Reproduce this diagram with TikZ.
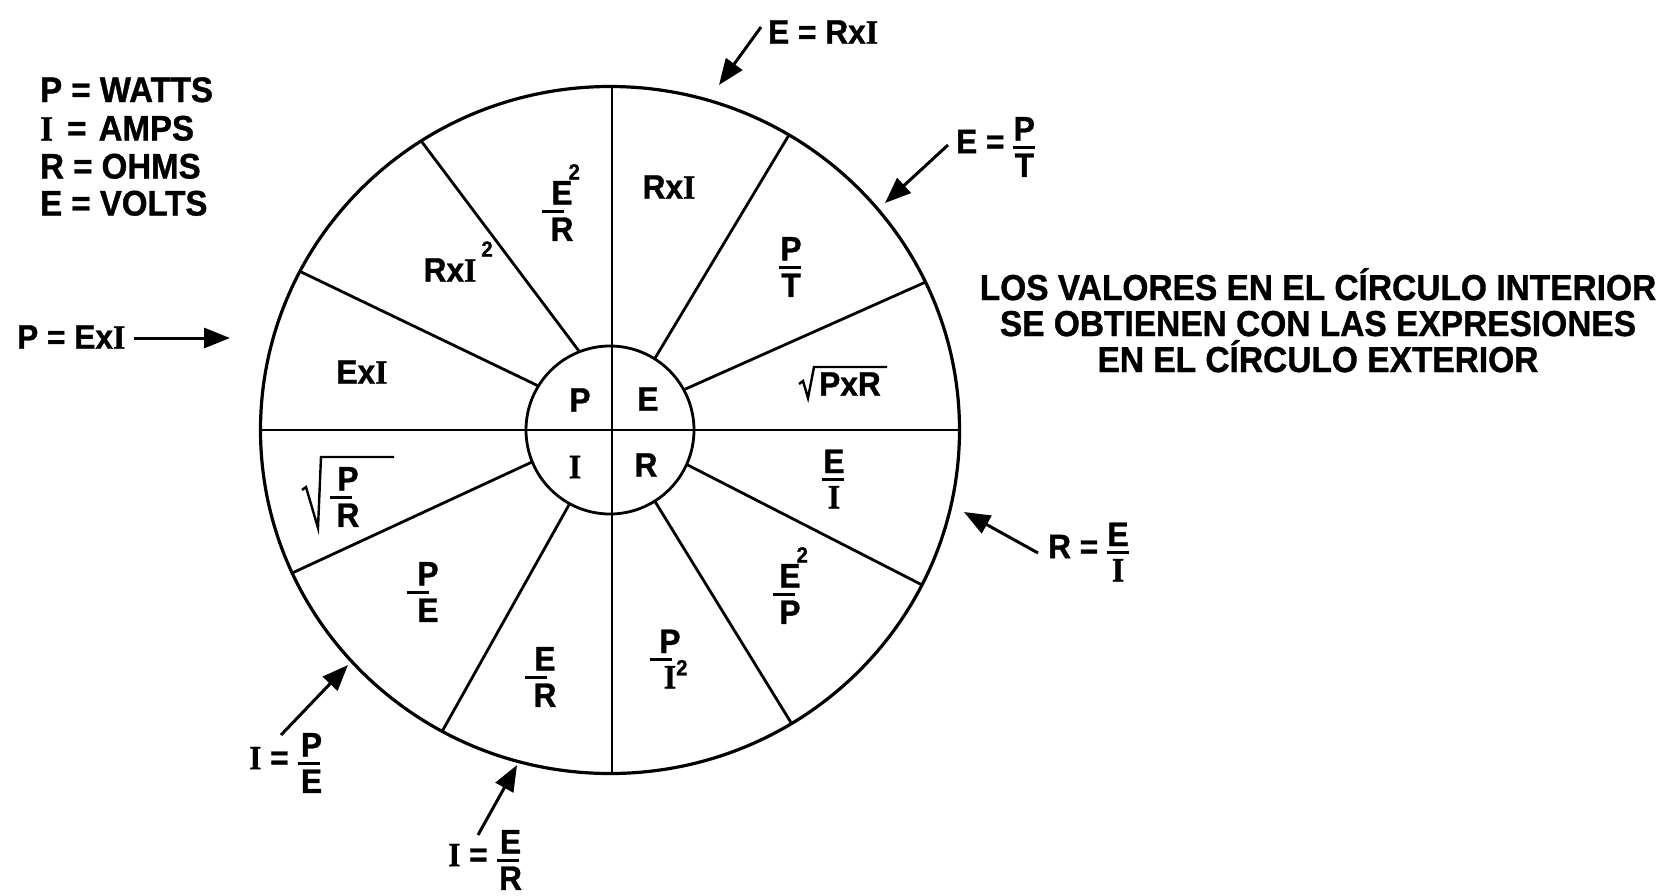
\documentclass[tikz,border=0pt]{standalone}
\usepackage{fontspec}
\setmainfont{Liberation Sans}[FakeStretch=0.93, BoldFeatures={FakeBold=1}]
\newfontfamily\serI{Liberation Serif}[FakeStretch=0.93, BoldFeatures={FakeBold=1}]
\usetikzlibrary{arrows.meta}
\newcommand{\sI}{{\serI I}}
\newcommand{\fr}[3][0pt]{$\vcenter{\offinterlineskip\halign{\hfil##\hfil\cr\hbox{#2}\cr\noalign{\kern5pt}\hbox{\vrule width 22pt height 3pt depth 0pt\kern#1}\cr\noalign{\kern5pt}\hbox{#3}\cr}}$}
\newcommand{\tsup}[3]{#1\rlap{\kern#2\smash{\raisebox{#3}{\fontsize{22}{22}\selectfont 2}}}}
\tikzset{
  txt/.style={inner sep=0pt, font=\fontsize{34}{36}\selectfont\bfseries},
  leg/.style={inner sep=0pt, font=\fontsize{35.5}{36}\selectfont\bfseries},
  big/.style={inner sep=0pt, font=\fontsize{36}{36}\selectfont\bfseries},
  ln/.style={line width=2.8pt},
  arr/.style={line width=3pt, -{Triangle[length=26pt,width=20pt]}},
  rad/.style={line width=2.4pt, line join=miter}
}
\begin{document}
\begin{tikzpicture}[x=1pt,y=-1pt]
\useasboundingbox (0,0) rectangle (1666,895);
\coordinate (O) at (610,430);
% circles and spokes
\draw[line width=3.2pt] (O) ellipse [x radius=349.5, y radius=343.5];
\draw[ln] (O) circle [radius=84];
\draw[ln] (612,86) -- (612,773);
\draw[ln] (260.5,430) -- (959.5,430);
\foreach \a/\b in {57.9/59.2, 28.6/25.5, -24.2/-26.8, -57.8/-58.7, 241.3/241.3, 202.3/204.6, 148.4/152.5, 111.3/122.7}
  \draw[ln] ([shift={(-\a:84)}]O) -- ([shift={(-\b:349.5 and 343.5)}]O);
% legend
\node[leg, anchor=base west] (lp) at (40,102) {P = WATTS};
\node[leg, anchor=base west] (li) at (40,140.5) {\sI\hspace{5pt} = \hspace{3pt}AMPS};
\node[leg, anchor=base west] (lr) at (40,178.5) {R = OHMS};
\node[leg, anchor=base west] (le) at (40,215.5) {E = VOLTS};
% right text
\node[big, anchor=base] (n1) at (1318,300) {LOS VALORES EN EL CÍRCULO INTERIOR};
\node[big, anchor=base] (n2) at (1318,336) {SE OBTIENEN CON LAS EXPRESIONES};
\node[big, anchor=base] (n3) at (1318,372) {EN EL CÍRCULO EXTERIOR};
% inner letters
\node[txt] (ip) at (580,400) {P};
\node[txt] (ie) at (648,399) {E};
\node[txt] (ii) at (575,467) {\sI};
\node[txt] (ir) at (646,465) {R};
% sector labels
\node[txt] (s1) at (669,187) {Rx\sI};
\node[txt] (s2) at (791,267) {\fr[3pt]{P}{T}};
\node[txt] (s3) at (850,384) {PxR};
\node[txt] (s4) at (834,479) {\fr[3pt]{E}{\sI}};
\node[txt] (s5) at (790,594) {\fr[12pt]{\tsup{E}{-4pt}{25pt}}{P}};
\node[txt] (s6) at (670,659) {\fr[18pt]{P}{\tsup{\sI}{0pt}{13pt}}};
\node[txt] (s7) at (545,677) {\fr[18pt]{E}{R}};
\node[txt] (s8) at (428,592) {\fr[20pt]{P}{E}};
\node[txt] (s9) at (348,497) {\fr[14pt]{P}{R}};
\node[txt] (s10) at (362,372) {Ex\sI};
\node[txt] (s11) at (450,270) {Rx\tsup{\sI}{5pt}{25pt}};
\node[txt] (s12) at (562,211) {\fr[18pt]{\tsup{E}{-4pt}{25pt}}{R}};
% radicals
\draw[rad] (799,384) -- (803,381) -- (808,398) -- (814,367) -- (887,367);
\draw[rad] (302,490) -- (306,487) -- (318,528) -- (321,457) -- (394,457);
% outer labels
\node[txt, anchor=west] (erxi) at (768,32) {E = Rx\sI};
\node[txt, anchor=west] (ept) at (956,147) {E = \fr{P}{T}};
\node[txt, anchor=west] (pexi) at (17,337) {P = Ex\sI};
\node[txt, anchor=west] (rei) at (1048,552) {R = \fr{E}{\sI}};
\node[txt, anchor=west] (ipe) at (249,763) {\sI{} = \fr[6pt]{P}{E}};
\node[txt, anchor=west] (ier) at (448,860) {\sI{} = \fr[6pt]{E}{R}};
% arrow tips
\coordinate (t1) at (719,85);
\coordinate (t2) at (885,203);
\coordinate (t3) at (230,338);
\coordinate (t4) at (964,512);
\coordinate (t5) at (348,665);
\coordinate (t6) at (517,765);
\draw[arr] ([shift={(-7,-5)}]erxi.west) -- (t1);
\draw[arr] ([shift={(-8,-2)}]ept.west) -- (t2);
\draw[arr] ([shift={(8,1)}]pexi.east) -- (t3);
\draw[arr] ([shift={(-10,1)}]rei.west) -- (t4);
\draw[arr] ([shift={(32,-28)}]ipe.west) -- (t5);
\draw[arr] ([shift={(30,-25)}]ier.west) -- (t6);
\end{tikzpicture}
\end{document}
